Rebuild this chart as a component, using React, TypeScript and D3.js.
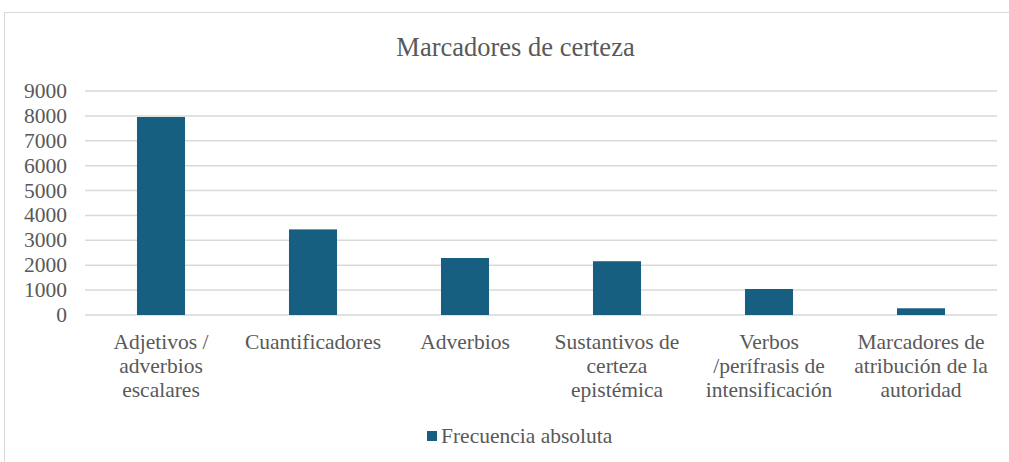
import React from "react";
import * as d3 from "d3";

const categories: string[][] = [
  ["Adjetivos /", "adverbios", "escalares"],
  ["Cuantificadores"],
  ["Adverbios"],
  ["Sustantivos de", "certeza", "epistémica"],
  ["Verbos", "/perífrasis de", "intensificación"],
  ["Marcadores de", "atribución de la", "autoridad"],
];
const values: number[] = [7955, 3440, 2290, 2160, 1045, 270];
const yTicks: number[] = [0, 1000, 2000, 3000, 4000, 5000, 6000, 7000, 8000, 9000];
const title = "Marcadores de certeza";
const seriesName = "Frecuencia absoluta";

const W = 1009;
const H = 462;
const FONT = "'Liberation Serif', 'Times New Roman', serif";
const BAR = "#175f80";
const TXT = "#595959";

export default function App() {
  const x = d3
    .scaleBand<number>()
    .domain(d3.range(categories.length))
    .range([85, 997])
    .paddingInner(0.684)
    .paddingOuter(0.342);
  const y = d3.scaleLinear().domain([0, 9000]).range([315, 91]);

  return (
    <svg
      width={W}
      height={H}
      style={{ position: "absolute", left: 0, top: 0, background: "#fff", fontFamily: FONT }}
    >
      <rect x={4.5} y={12.5} width={W + 10} height={H + 10} fill="#fff" stroke="#d9d9d9" />
      <text x={515.5} y={56} textAnchor="middle" fontSize={26.5} fill={TXT}>
        {title}
      </text>
      {yTicks.map((t) => (
        <g key={t}>
          <line x1={85} x2={997} y1={y(t)} y2={y(t)} stroke="#d9d9d9" strokeWidth={1.5} />
          <text x={67} y={y(t) + 7} textAnchor="end" fontSize={21.5} fill={TXT}>
            {t}
          </text>
        </g>
      ))}
      {values.map((v, i) => (
        <rect
          key={i}
          x={x(i)}
          y={y(v)}
          width={x.bandwidth()}
          height={y(0) - y(v)}
          fill={BAR}
        />
      ))}
      {categories.map((lines, i) => (
        <text
          key={i}
          x={(x(i) as number) + x.bandwidth() / 2}
          textAnchor="middle"
          fontSize={21.5}
          fill={TXT}
        >
          {lines.map((l, j) => (
            <tspan key={j} x={(x(i) as number) + x.bandwidth() / 2} y={349 + j * 24}>
              {l}
            </tspan>
          ))}
        </text>
      ))}
      <rect x={427} y={431} width={10} height={10} fill={BAR} />
      <text x={441} y={443} fontSize={21.5} fill={TXT}>
        {seriesName}
      </text>
    </svg>
  );
}
